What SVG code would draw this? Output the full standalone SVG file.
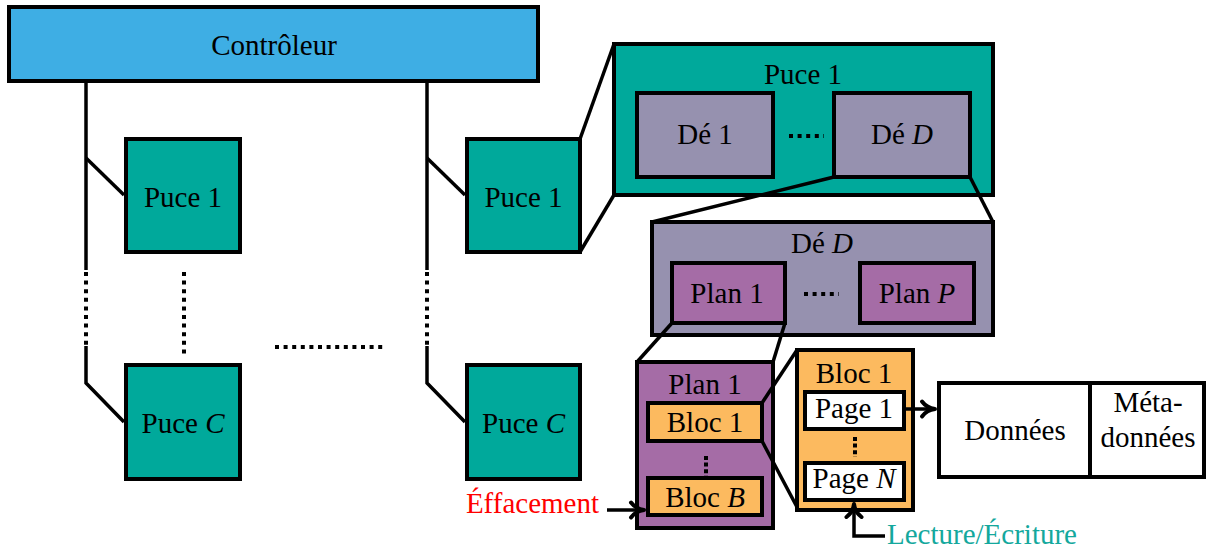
<svg xmlns="http://www.w3.org/2000/svg" width="1207" height="554" viewBox="0 0 1207 554" font-family="Liberation Serif, DejaVu Serif, serif">
<defs>
<style>
text{font-family:'Liberation Serif','DejaVu Serif','Noto Serif',serif;font-size:29px;fill:#000;text-anchor:middle}
.it{font-style:italic}
.box{stroke:#000;stroke-width:4}
.ctrl{fill:#3EAEE4}
.puce{fill:#00A99B}
.de{fill:#9691AF}
.plan{fill:#A56CA6}
.bloc{fill:#FCBA5F}
.white{fill:#fff}
.ln{stroke:#000;stroke-width:3.5;fill:none}
.dot{stroke:#000;stroke-width:4;fill:none;stroke-dasharray:4 4.6}
.vdot{stroke:#000;stroke-width:4;fill:none;stroke-dasharray:4 2.6}
</style>
<marker id="arr" markerUnits="userSpaceOnUse" viewBox="0 0 17 20" markerWidth="17" markerHeight="20" refX="15" refY="10" orient="auto" overflow="visible">
<path d="M 2 2.5 C 5 6.5 10 9.4 15 10 C 10 10.6 5 13.5 2 17.5" fill="none" stroke="#000" stroke-width="4" stroke-linecap="round" stroke-linejoin="round"/>
</marker>
</defs>
<rect width="1207" height="554" fill="#fff"/>

<g id="controleur">
<rect class="box ctrl" x="9" y="7" width="529" height="74"/>
<text x="274" y="55">Contrôleur</text>
</g>

<g id="puce1-left">
<rect class="box puce" x="126" y="139" width="114" height="113"/>
<text x="183" y="207">Puce 1</text>
</g>
<g id="pucec-left">
<rect class="box puce" x="126" y="365" width="114" height="114"/>
<text x="183" y="433">Puce <tspan class="it">C</tspan></text>
</g>
<g id="puce1-right">
<rect class="box puce" x="467" y="139" width="113" height="113"/>
<text x="523.5" y="207">Puce 1</text>
</g>
<g id="pucec-right">
<rect class="box puce" x="467" y="365" width="113" height="114"/>
<text x="523.5" y="433">Puce <tspan class="it">C</tspan></text>
</g>

<g id="puce1-detail">
<rect class="box puce" x="614" y="44" width="379" height="151"/>
<text x="803" y="84">Puce 1</text>
</g>
<g id="de1">
<rect class="box de" x="637" y="93" width="136" height="84"/>
<text x="705" y="144">Dé 1</text>
</g>
<line class="dot" x1="789" y1="136" x2="824" y2="136"/>
<g id="ded">
<rect class="box de" x="834" y="93" width="136" height="84"/>
<text x="902" y="144">Dé <tspan class="it">D</tspan></text>
</g>

<g id="ded-detail">
<rect class="box de" x="652" y="222" width="341" height="113"/>
<text x="822" y="253">Dé <tspan class="it">D</tspan></text>
</g>
<g id="plan1">
<rect class="box plan" x="672" y="263" width="113" height="60"/>
<text x="727" y="303">Plan 1</text>
</g>
<line class="dot" x1="804" y1="294" x2="839" y2="294"/>
<g id="planp">
<rect class="box plan" x="860" y="263" width="114" height="60"/>
<text x="917" y="303">Plan <tspan class="it">P</tspan></text>
</g>

<g id="plan1-detail">
<rect class="box plan" x="637" y="362" width="136" height="166"/>
<text x="705" y="394">Plan 1</text>
</g>
<g id="bloc1">
<rect class="box bloc" x="648" y="403" width="114" height="38"/>
<text x="705" y="432">Bloc 1</text>
</g>
<line class="vdot" x1="706" y1="456" x2="706" y2="476"/>
<g id="blocb">
<rect class="box bloc" x="648" y="478" width="114" height="37"/>
<text x="705" y="507">Bloc <tspan class="it">B</tspan></text>
</g>

<g id="bloc1-detail">
<rect class="box bloc" x="797" y="350" width="116" height="160"/>
<text x="854" y="383">Bloc 1</text>
</g>
<g id="page1">
<rect class="box white" x="805" y="392" width="99" height="37"/>
<text x="854" y="418">Page 1</text>
</g>
<line class="vdot" x1="855" y1="437" x2="855" y2="457"/>
<g id="pagen">
<rect class="box white" x="805" y="463" width="99" height="37"/>
<text x="854" y="488">Page <tspan class="it">N</tspan></text>
</g>

<g id="donnees">
<rect class="box white" x="939" y="383" width="151" height="94"/>
<text x="1015" y="440">Données</text>
</g>
<g id="metadonnees">
<rect class="box white" x="1090" y="383" width="114" height="94"/>
<text x="1148" y="412">Méta-</text>
<text x="1148" y="447">données</text>
</g>

<g id="effacement">
<text x="599" y="513" style="text-anchor:end;fill:#FF0000">Éffacement</text>
</g>
<g id="lecture">
<text x="887" y="544" style="text-anchor:start;fill:#14A89D">Lecture/Écriture</text>
</g>

<g id="connectors">
<polyline class="ln" points="86,81 86,270"/>
<line class="dot" x1="86" y1="272" x2="86" y2="346"/>
<polyline class="ln" points="86,346 86,383 124,422"/>
<line class="ln" x1="86" y1="158" x2="124" y2="195"/>
<polyline class="ln" points="427,81 427,270"/>
<line class="dot" x1="427" y1="272" x2="427" y2="346"/>
<polyline class="ln" points="427,346 427,383 465,422"/>
<line class="ln" x1="427" y1="158" x2="465" y2="195"/>
<line class="dot" x1="184" y1="272" x2="184" y2="354"/>
<line class="dot" x1="275" y1="347" x2="386" y2="347"/>
<line class="ln" x1="580" y1="139" x2="614" y2="44"/>
<line class="ln" x1="580" y1="252" x2="614" y2="195"/>
<line class="ln" x1="834" y1="177" x2="652" y2="222"/>
<line class="ln" x1="970" y1="177" x2="993" y2="222"/>
<line class="ln" x1="672" y1="323" x2="637" y2="362"/>
<line class="ln" x1="785" y1="323" x2="773" y2="362"/>
<line class="ln" x1="762" y1="403" x2="797" y2="350"/>
<line class="ln" x1="762" y1="441" x2="797" y2="507"/>
<line class="ln" x1="607" y1="510" x2="644" y2="510" marker-end="url(#arr)"/>
<line class="ln" x1="904" y1="409" x2="935" y2="409" marker-end="url(#arr)"/>
<polyline class="ln" points="885,536 854,536 854,504" marker-end="url(#arr)"/>
</g>
</svg>
